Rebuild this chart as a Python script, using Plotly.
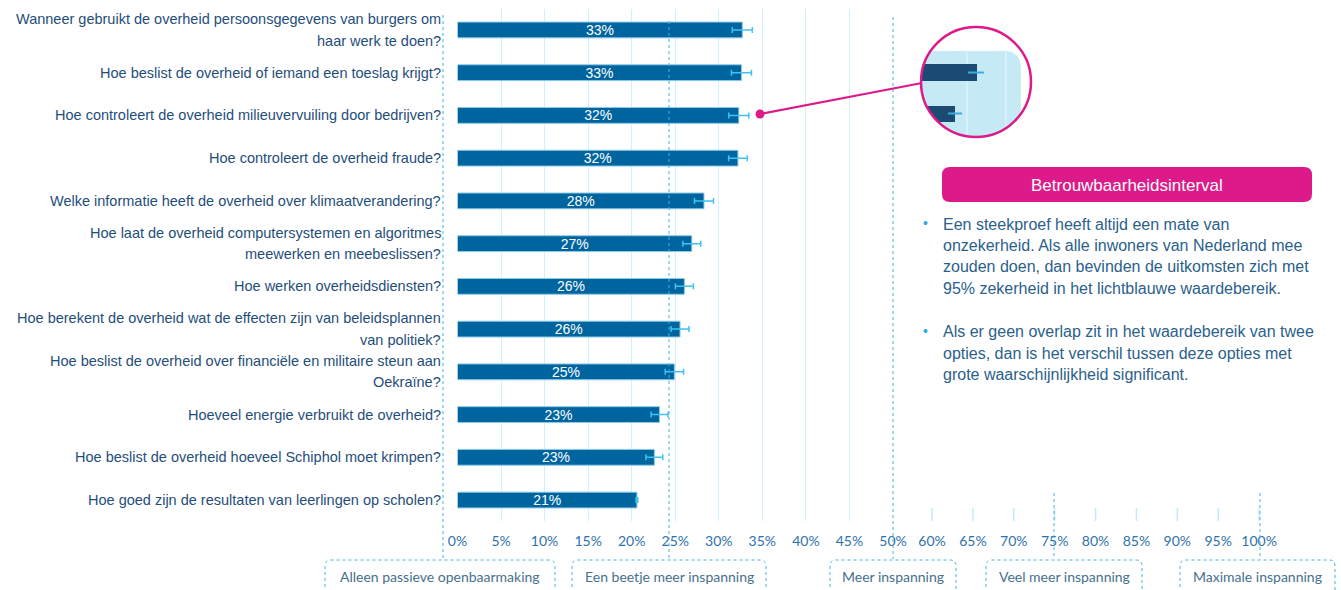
import numpy as np
import plotly.graph_objects as go

W, H = 1341, 590

# ---------------- data ----------------
questions = [
    "Wanneer gebruikt de overheid persoonsgegevens van burgers om<br>haar werk te doen?",
    "Hoe beslist de overheid of iemand een toeslag krijgt?",
    "Hoe controleert de overheid milieuvervuiling door bedrijven?",
    "Hoe controleert de overheid fraude?",
    "Welke informatie heeft de overheid over klimaatverandering?",
    "Hoe laat de overheid computersystemen en algoritmes<br>meewerken en meebeslissen?",
    "Hoe werken overheidsdiensten?",
    "Hoe berekent de overheid wat de effecten zijn van beleidsplannen<br>van politiek?",
    "Hoe beslist de overheid over financiële en militaire steun aan<br>Oekraïne?",
    "Hoeveel energie verbruikt de overheid?",
    "Hoe beslist de overheid hoeveel Schiphol moet krimpen?",
    "Hoe goed zijn de resultaten van leerlingen op scholen?",
]
values = [32.7, 32.6, 32.3, 32.2, 28.3, 26.9, 26.05, 25.55, 24.9, 23.2, 22.6, 20.6]
errors = [1.15, 1.15, 1.15, 1.07, 1.09, 1.03, 1.03, 1.03, 1.05, 0.97, 0.97, 0.1]

main_ticks = [0, 5, 10, 15, 20, 25, 30, 35, 40, 45, 50]
right_ticks = [60, 65, 70, 75, 80, 85, 90, 95, 100]

effort_labels = ["Alleen passieve openbaarmaking", "Een beetje meer inspanning",
                 "Meer inspanning", "Veel meer inspanning", "Maximale inspanning"]

info_title = "Betrouwbaarheidsinterval"
bullet1 = ["Een steekproef heeft altijd een mate van",
           "onzekerheid. Als alle inwoners van Nederland mee",
           "zouden doen, dan bevinden de uitkomsten zich met",
           "95% zekerheid in het lichtblauwe waardebereik."]
bullet2 = ["Als er geen overlap zit in het waardebereik van twee",
           "opties, dan is het verschil tussen deze opties met",
           "grote waarschijnlijkheid significant."]

# ---------------- styling ----------------
BAR = "#00649f"
ERR = "#3ec3f2"
GRID = "#d3effb"
DOT = "#3fb4e4"
LABEL = "#1f4e7a"
TICK = "#2f72ab"
BOXTXT = "#46708e"
PINK = "#dc1a89"
NAVY = "#1b4a73"
LIGHTBLUE = "#c6e9f6"
ARIAL = "Liberation Sans, Arial, sans-serif"
HUMAN = "Lato, Noto Sans, sans-serif"


def px(x):
    return x / W


def py(y):
    return 1 - y / H


fig = go.Figure()
fig.add_trace(go.Bar(
    y=questions, x=values, orientation="h",
    marker=dict(color=BAR, line=dict(color="#8ccbea", width=1)),
    width=0.37,
    error_x=dict(type="data", array=errors, color=ERR, thickness=1.5, width=3),
    texttemplate="%{x:.0f}%", textposition="inside", insidetextanchor="middle",
    constraintext="none",
    textfont=dict(color="white", size=14, family=ARIAL),
    hoverinfo="skip", cliponaxis=False,
))
# helper trace so the right-hand (compressed) axis is rendered
fig.add_trace(go.Scatter(x=[right_ticks[0]], y=[questions[0]], xaxis="x2", mode="markers",
                         marker=dict(opacity=0), hoverinfo="skip", showlegend=False))

shapes = []
annotations = []

# y-labels as right-aligned text, line by line
LINE = 21.3
for q in questions:
    lines = q.split("<br>")
    n = len(lines)
    for i, ln in enumerate(lines):
        off = (i - (n - 1) / 2) * LINE
        annotations.append(dict(x=px(443), xref="paper", y=q, yref="y", text=ln,
                                showarrow=False, xanchor="right", yanchor="middle",
                                yshift=-off, font=dict(family=ARIAL, size=14.5, color=LABEL)))

# short tick stubs on the right-hand axis
for v in right_ticks:
    shapes.append(dict(type="line", xref="x2", yref="paper", x0=v, x1=v,
                       y0=py(508), y1=py(521), line=dict(color="#c4eaf9", width=1.5), layer="below"))

# effort boxes with dotted outlines and dotted centre lines
boxes = [(325, 555, 15), (572, 766, 21), (830, 956, 17), (986, 1142, 493), (1180, 1335, 493)]
centres = [443, 669, 893, 1054, 1260]
for (x0, x1, top), cx, lab in zip(boxes, centres, effort_labels):
    yt, yb, r = 560, 605, 6
    path = (f"M {px(x0)},{py(yb)} L {px(x0)},{py(yt + r)} Q {px(x0)},{py(yt)} {px(x0 + r)},{py(yt)} "
            f"L {px(x1 - r)},{py(yt)} Q {px(x1)},{py(yt)} {px(x1)},{py(yt + r)} L {px(x1)},{py(yb)}")
    shapes.append(dict(type="path", xref="paper", yref="paper", path=path,
                       line=dict(color=DOT, width=1, dash="dot"), layer="above"))
    shapes.append(dict(type="line", xref="paper", yref="paper", x0=px(cx), x1=px(cx),
                       y0=py(top), y1=py(559), line=dict(color=DOT, width=1, dash="dot"), layer="above"))
    annotations.append(dict(x=px((x0 + x1) / 2), y=py(576), xref="paper", yref="paper", text=lab,
                            showarrow=False, xanchor="center", yanchor="middle",
                            font=dict(family=HUMAN, size=14, color=BOXTXT)))

# ---------------- magnifier illustration ----------------
cx, cy, R = 976, 82, 55


def in_rrect(x, y):
    if x > 1021 or y < 51:
        return False
    if x > 1006 and y < 66:
        return (x - 1006) ** 2 + (y - 66) ** 2 <= 15 ** 2
    return True


pts = []
for th in np.linspace(0, 2 * np.pi, 241)[:-1]:
    d = 0.0
    while d < R and in_rrect(cx + (d + 0.25) * np.cos(th), cy + (d + 0.25) * np.sin(th)):
        d += 0.25
    pts.append((cx + d * np.cos(th), cy + d * np.sin(th)))
rpath = "M " + " L ".join(f"{px(a)},{py(b)}" for a, b in pts) + " Z"


def clipped_bar(xr, y0, y1):
    p = [(xr, y0), (xr, y1)]
    for yy in np.linspace(y1, y0, 12):
        p.append((cx - np.sqrt(R ** 2 - (yy - cy) ** 2), yy))
    return "M " + " L ".join(f"{px(a)},{py(b)}" for a, b in p) + " Z"


shapes += [
    dict(type="line", xref="paper", yref="paper", x0=px(760), y0=py(114), x1=px(922), y1=py(83),
         line=dict(color=PINK, width=2), layer="above"),
    dict(type="circle", xref="paper", yref="paper", x0=px(755.5), x1=px(764.5), y0=py(109.5), y1=py(118.5),
         fillcolor=PINK, line=dict(width=0), layer="above"),
    dict(type="circle", xref="paper", yref="paper", x0=px(cx - R), x1=px(cx + R), y0=py(cy - R), y1=py(cy + R),
         fillcolor="white", line=dict(width=0), layer="above"),
    dict(type="path", xref="paper", yref="paper", path=rpath, fillcolor=LIGHTBLUE,
         line=dict(width=0), layer="above"),
    dict(type="line", xref="paper", yref="paper", x0=px(967), x1=px(967), y0=py(52), y1=py(135),
         line=dict(color="#dcf2fb", width=1.5), layer="above"),
    dict(type="line", xref="paper", yref="paper", x0=px(1006), x1=px(1006), y0=py(52), y1=py(127),
         line=dict(color="#dcf2fb", width=1.5), layer="above"),
    dict(type="path", xref="paper", yref="paper", path=clipped_bar(977, 64, 81), fillcolor=NAVY,
         line=dict(width=0), layer="above"),
    dict(type="path", xref="paper", yref="paper", path=clipped_bar(955, 106, 122), fillcolor=NAVY,
         line=dict(width=0), layer="above"),
    dict(type="line", xref="paper", yref="paper", x0=px(968), x1=px(984), y0=py(72.5), y1=py(72.5),
         line=dict(color="#3aaee0", width=2), layer="above"),
    dict(type="line", xref="paper", yref="paper", x0=px(948), x1=px(962), y0=py(113.5), y1=py(113.5),
         line=dict(color="#3aaee0", width=2), layer="above"),
    dict(type="circle", xref="paper", yref="paper", x0=px(cx - R), x1=px(cx + R), y0=py(cy - R), y1=py(cy + R),
         line=dict(color=PINK, width=2.5), layer="above"),
]

# pink info header
x0, x1, yt, yb, r = 942, 1312, 167, 202, 8
hpath = (f"M {px(x0 + r)},{py(yt)} L {px(x1 - r)},{py(yt)} Q {px(x1)},{py(yt)} {px(x1)},{py(yt + r)} "
         f"L {px(x1)},{py(yb - r)} Q {px(x1)},{py(yb)} {px(x1 - r)},{py(yb)} L {px(x0 + r)},{py(yb)} "
         f"Q {px(x0)},{py(yb)} {px(x0)},{py(yb - r)} L {px(x0)},{py(yt + r)} Q {px(x0)},{py(yt)} {px(x0 + r)},{py(yt)} Z")
shapes.append(dict(type="path", xref="paper", yref="paper", path=hpath, fillcolor=PINK,
                   line=dict(width=0), layer="above"))
annotations.append(dict(x=px(1127), y=py(185), xref="paper", yref="paper", text=info_title,
                        showarrow=False, xanchor="center", yanchor="middle",
                        font=dict(family=ARIAL, size=17, color="white")))

# bullets
for lines, y0 in ((bullet1, 224), (bullet2, 331.7)):
    annotations.append(dict(x=px(925), y=py(y0 - 1), xref="paper", yref="paper", text="•",
                            showarrow=False, xanchor="center", yanchor="middle",
                            font=dict(family=ARIAL, size=14, color="#29a9e0")))
    for i, ln in enumerate(lines):
        annotations.append(dict(x=px(941), y=py(y0 + i * 21.4), xref="paper", yref="paper", text=ln,
                                showarrow=False, xanchor="left", yanchor="middle",
                                font=dict(family=ARIAL, size=16, color="#2b5f8c")))

fig.update_layout(
    template="none",
    width=W, height=H, autosize=False,
    margin=dict(l=0, r=0, t=0, b=0, pad=0),
    paper_bgcolor="white", plot_bgcolor="white",
    showlegend=False, bargap=0.63,
    xaxis=dict(domain=[px(457.5), px(893)], range=[0, 50], tickvals=main_ticks,
               ticktext=[f"{v}%" for v in main_ticks], showgrid=True, gridcolor=GRID, gridwidth=1,
               zeroline=False, showline=False, ticks="", ticklabelstandoff=10, automargin=False,
               tickfont=dict(family=HUMAN, size=14, color=TICK), fixedrange=True),
    xaxis2=dict(domain=[px(893), px(1300)], range=[55.23, 105], tickvals=right_ticks,
                ticktext=[f"{v}%" for v in right_ticks], showgrid=False, zeroline=False,
                showline=False, ticks="", anchor="y", ticklabelstandoff=10, automargin=False,
                tickfont=dict(family=HUMAN, size=14, color=TICK), fixedrange=True),
    yaxis=dict(domain=[py(521.4), py(8.6)], type="category", categoryorder="array",
               categoryarray=questions, range=[11.5, -0.5], showticklabels=False, automargin=False,
               showgrid=False, zeroline=False, ticks="", fixedrange=True),
    shapes=shapes, annotations=annotations,
)

fig.write_html("out.html", config={"displayModeBar": False, "responsive": False},
               post_script="document.body.style.margin='0';document.body.style.overflow='hidden';")
